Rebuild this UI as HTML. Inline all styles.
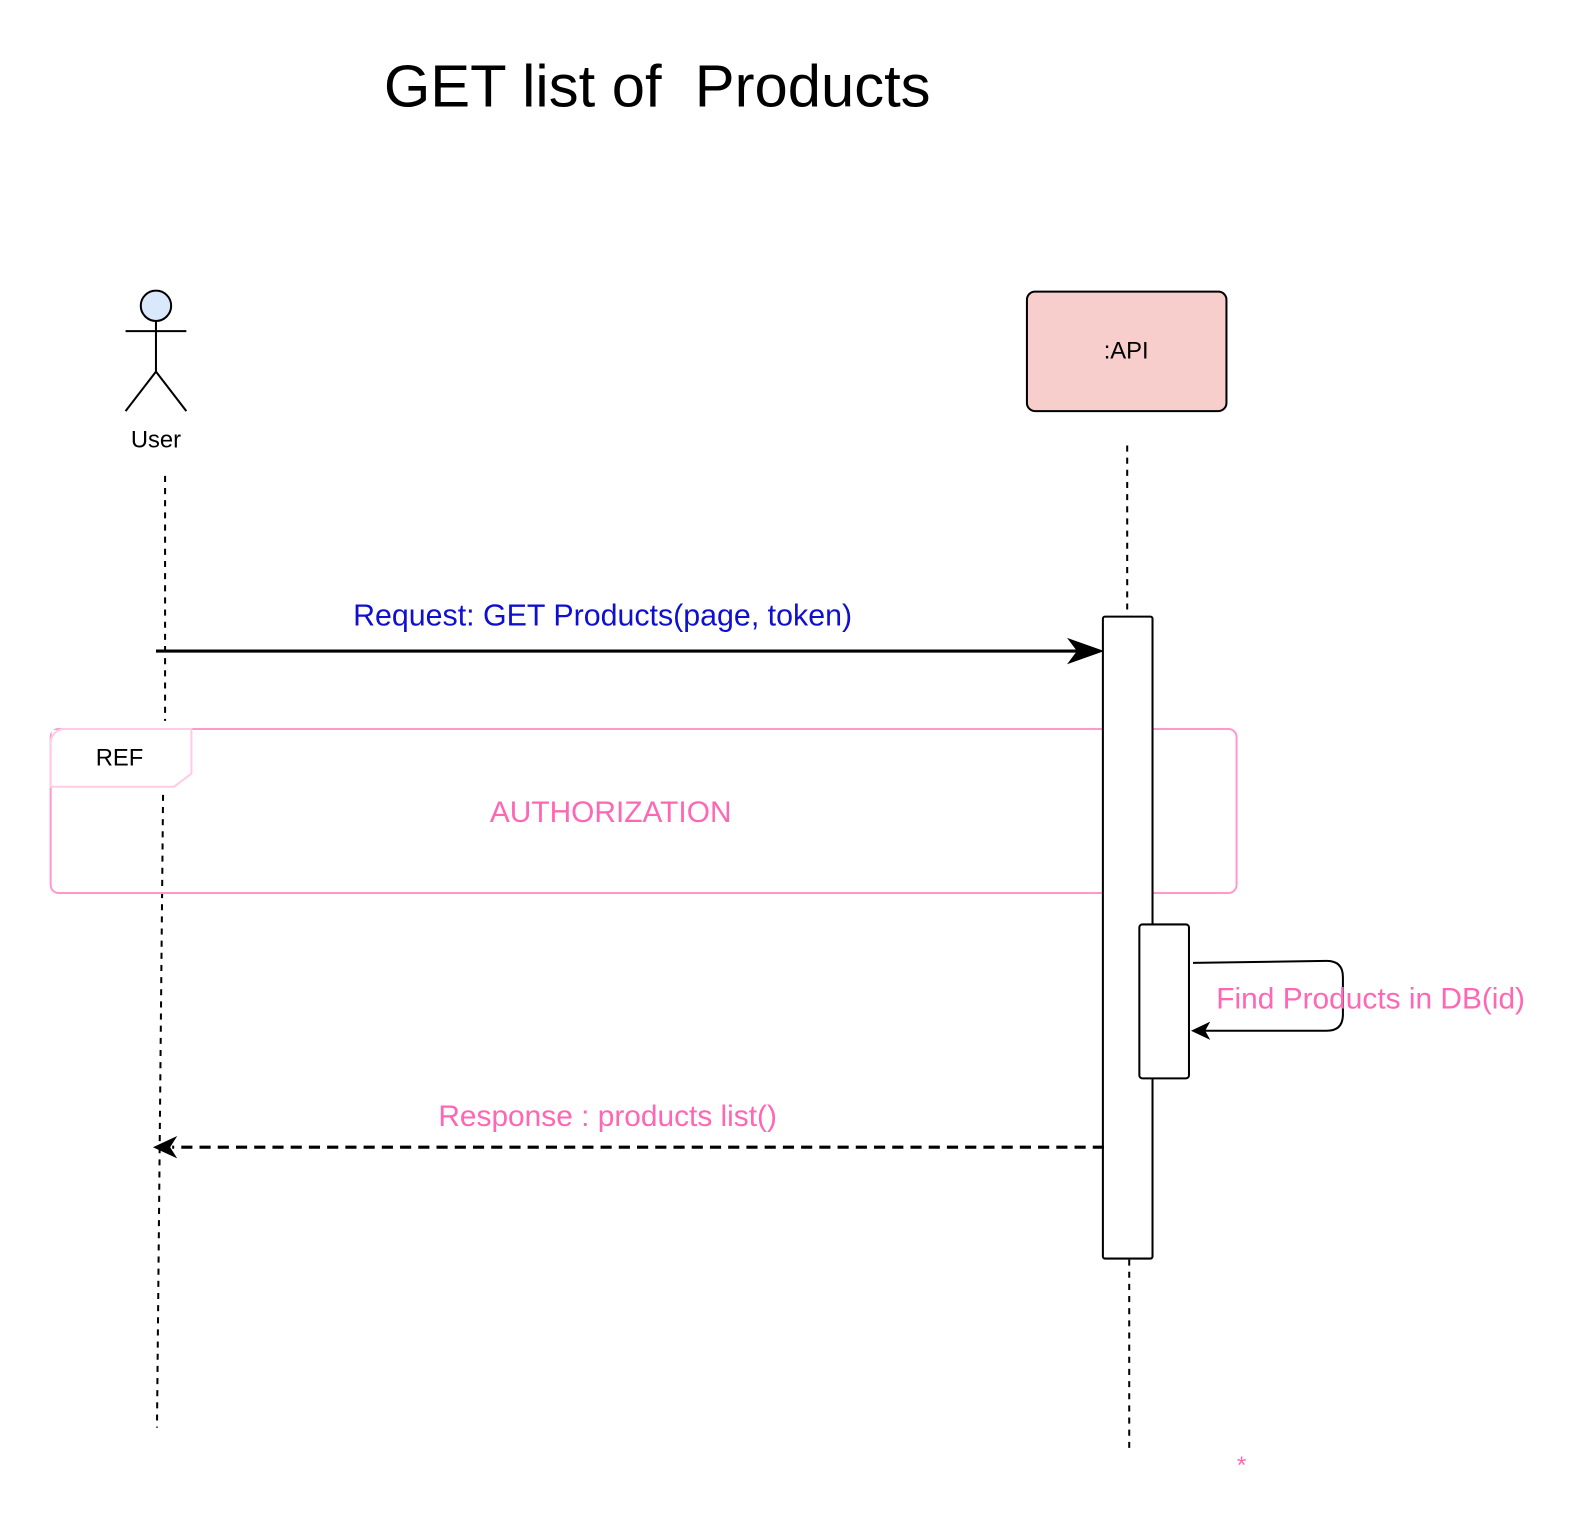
<!DOCTYPE html>
<html><head><meta charset="utf-8"><style>
html,body{margin:0;padding:0;background:#fff;}
svg{display:block;font-family:"Liberation Sans",Arial,sans-serif;}
</style></head><body>
<svg width="1588" height="1536" viewBox="0 0 1568 1517" preserveAspectRatio="none" xmlns="http://www.w3.org/2000/svg">
<text x="379" y="105" font-size="59" fill="#000" xml:space="preserve">GET list of  Products</text>
<!-- actor -->
<circle cx="154" cy="302" r="15" fill="#dae8fc" stroke="#000" stroke-width="2"/>
<line x1="154" y1="317" x2="154" y2="367" stroke="#000" stroke-width="2"/>
<line x1="124" y1="327" x2="184" y2="327" stroke="#000" stroke-width="2"/>
<line x1="154" y1="367" x2="124" y2="406" stroke="#000" stroke-width="2"/>
<line x1="154" y1="367" x2="184" y2="406" stroke="#000" stroke-width="2"/>
<text x="154" y="442" font-size="23.5" text-anchor="middle" fill="#000">User</text>
<!-- user lifeline -->
<path d="M163 470 L163 712 M161 785 L155 1410" stroke="#000" stroke-width="2" stroke-dasharray="6 6" fill="none"/>
<!-- API -->
<rect x="1014" y="288" width="197" height="118" rx="8" fill="#f8cecc" stroke="#000" stroke-width="2"/>
<text x="1112" y="354" font-size="23.5" text-anchor="middle" fill="#000">:API</text>
<path d="M1113 440 L1113 608 M1115 1244 L1115 1436" stroke="#000" stroke-width="2" stroke-dasharray="6 6" fill="none"/>
<!-- REF frame -->
<rect x="50" y="720" width="1171" height="162" rx="8" fill="none" stroke="#ff99cc" stroke-width="2"/>
<rect x="51" y="721" width="137" height="55" fill="#fff"/>
<path d="M50 777 L172 777 L189 764 L189 720 L62 720 Q52 722 50 732 Z" fill="none" stroke="#ffcce6" stroke-width="2"/>
<text x="118" y="756" font-size="23.5" text-anchor="middle" fill="#000">REF</text>
<text x="603" y="812" font-size="29.5" text-anchor="middle" fill="#ff66b3">AUTHORIZATION</text>
<!-- activation -->
<rect x="1089" y="609" width="49" height="634" rx="2" fill="#fff" stroke="#000" stroke-width="2"/>
<rect x="1125" y="913" width="49" height="152" rx="3" fill="#fff" stroke="#000" stroke-width="2"/>
<!-- request -->
<text x="595" y="618" font-size="30" text-anchor="middle" fill="#0f0fd0">Request: GET Products(page, token)</text>
<line x1="154" y1="643" x2="1070" y2="643" stroke="#000" stroke-width="3"/>
<path d="M1089 643 L1055 631 L1064 643 L1055 655 Z" fill="#000" stroke="#000"/>
<!-- self call -->
<path d="M1178 951 L1310 949 Q1326 949 1326 965 L1326 1002 Q1326 1018 1310 1018 L1188 1018" fill="none" stroke="#000" stroke-width="2"/>
<path d="M1176 1018 L1195 1009 L1190 1018 L1195 1027 Z" fill="#000"/>
<text x="1201" y="996" font-size="29.5" fill="#ff66b3">Find Products in DB(id)</text>
<!-- response -->
<text x="600" y="1112" font-size="29.5" text-anchor="middle" fill="#ff66b3">Response : products list()</text>
<line x1="1090" y1="1133" x2="170" y2="1133" stroke="#000" stroke-width="3" stroke-dasharray="11 7"/>
<path d="M151 1133 L175 1122 L168 1133 L175 1144 Z" fill="#000"/>
<text x="1226" y="1455" font-size="24" text-anchor="middle" fill="#ff66b3">*</text>
</svg>
</body></html>
